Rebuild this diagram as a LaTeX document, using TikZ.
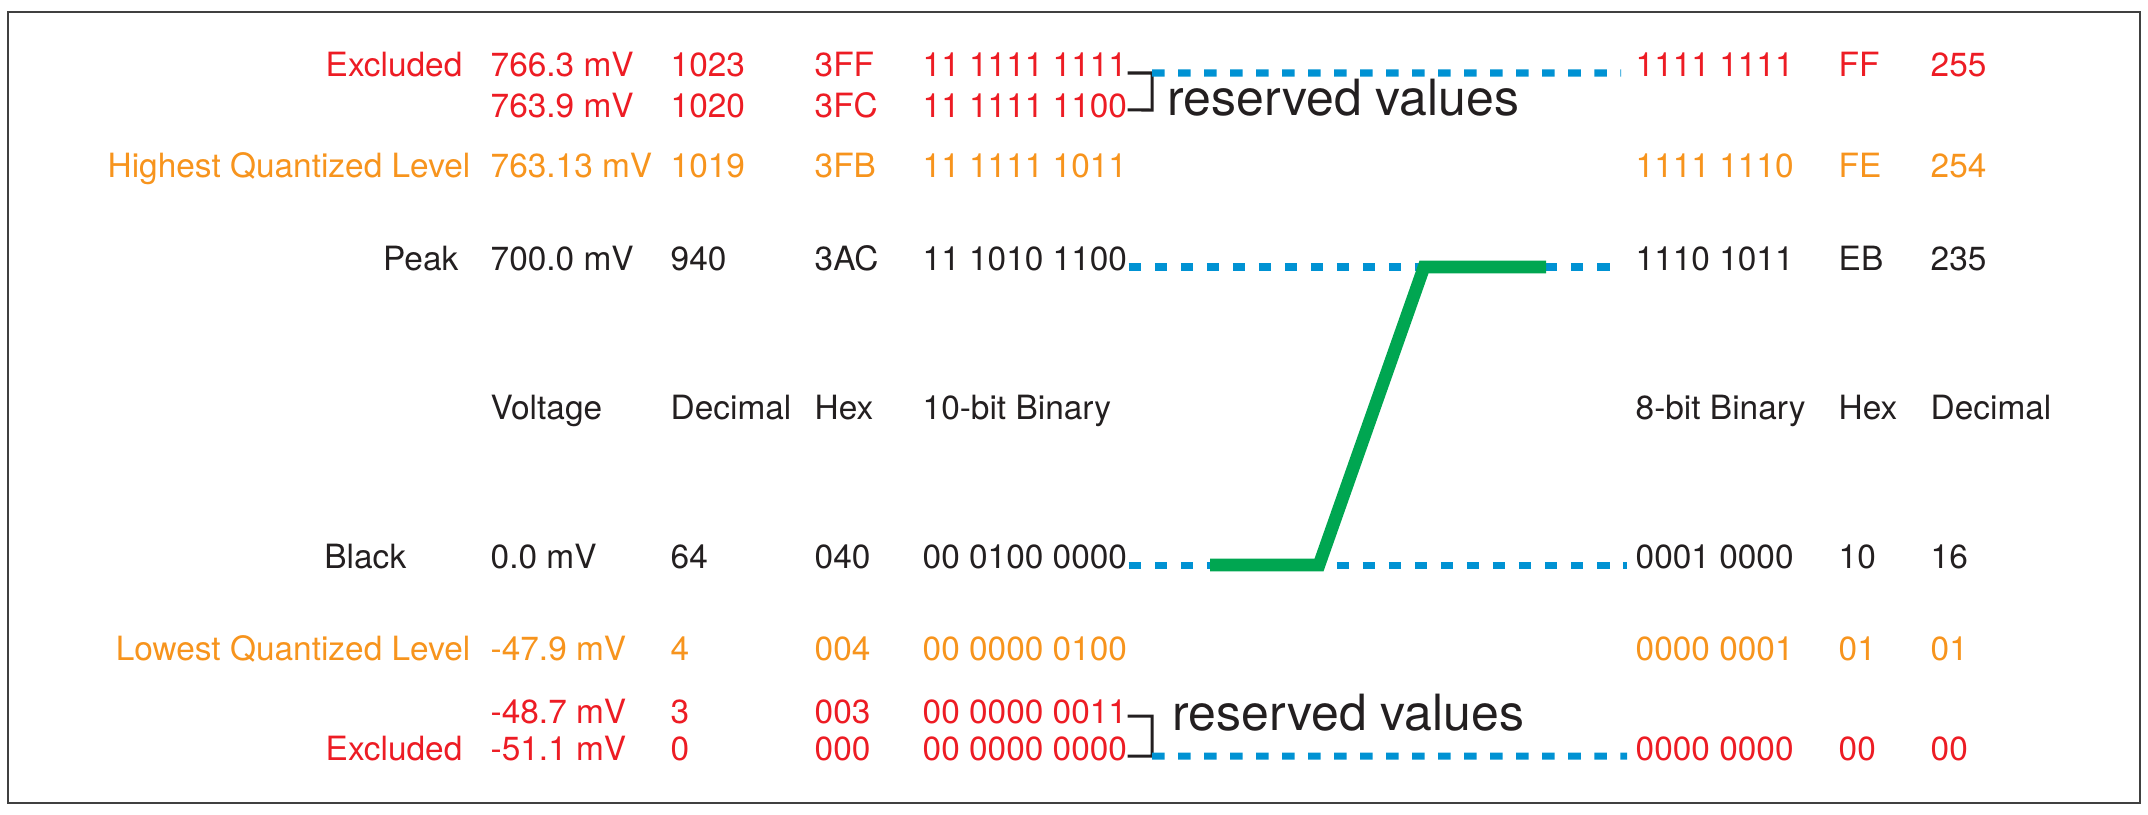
\documentclass[tikz,border=0pt]{standalone}
\usepackage{fontspec}
\setmainfont{TeX Gyre Heros}
\usepackage{xcolor}

\definecolor{exred}{RGB}{237,28,36}
\definecolor{qorange}{RGB}{247,148,29}
\definecolor{inkblack}{RGB}{35,31,32}
\definecolor{dashblue}{RGB}{0,146,211}
\definecolor{rampgreen}{RGB}{0,166,81}

\begin{document}
\begin{tikzpicture}[x=0.01cm,y=-0.01cm,
  cell/.style={anchor=base west,inner sep=0pt,font=\fontsize{9.5}{11}\selectfont},
  tag/.style={anchor=base east,inner sep=0pt,font=\fontsize{9.5}{11}\selectfont},
  note/.style={anchor=base west,inner sep=0pt,text=inkblack,font=\fontsize{14.2}{17}\selectfont},
  excl/.style={text=exred},
  quant/.style={text=qorange},
  plain/.style={text=inkblack},
  levelline/.style={draw=dashblue,line width=0.07cm,dash pattern=on 0.125cm off 0.135cm},
  bracket/.style={draw=inkblack,line width=0.03cm},
  ramp/.style={draw=rampgreen,line width=0.127cm},
  frame/.style={draw=black!75,line width=0.025cm}]

\useasboundingbox (0,0) rectangle (2148,815);
\draw[frame] (8,12) rectangle (2140,803);

\coordinate (V) at (490,0);
\coordinate (D) at (670,0);
\coordinate (H) at (814,0);
\coordinate (B) at (922,0);
\coordinate (E) at (1635,0);
\coordinate (X) at (1838,0);
\coordinate (C) at (1930,0);

\coordinate (r1) at (0,77);
\coordinate (r2) at (0,117);
\coordinate (r3) at (0,177);
\coordinate (r4) at (0,270);
\coordinate (r5) at (0,419);
\coordinate (r6) at (0,568);
\coordinate (r7) at (0,660);
\coordinate (r8) at (0,723);
\coordinate (r9) at (0,760);

\coordinate (k1) at (1152,73);
\coordinate (k2) at (1152,110);
\coordinate (k3) at (1152,716);
\coordinate (k4) at (1152,756);

\coordinate (G1) at (1210,565);
\coordinate (G2) at (1319,565);
\coordinate (G3) at (1424,267);
\coordinate (G4) at (1546,267);

\node[tag,excl] (lab1) at (463,77) {Excluded};
\node[cell,excl] (volt1) at (V |- r1) {766.3 mV};
\node[cell,excl] (dec1) at (D |- r1) {1023};
\node[cell,excl] (hex1) at (H |- r1) {3FF};
\node[cell,excl] (bin1) at (B |- r1) {11 1111 1111};
\node[cell,excl] (ebin1) at (E |- r1) {1111 1111};
\node[cell,excl] (ehex1) at (X |- r1) {FF};
\node[cell,excl] (edec1) at (C |- r1) {255};

\node[cell,excl] (volt2) at (V |- r2) {763.9 mV};
\node[cell,excl] (dec2) at (D |- r2) {1020};
\node[cell,excl] (hex2) at (H |- r2) {3FC};
\node[cell,excl] (bin2) at (B |- r2) {11 1111 1100};

\node[tag,quant] (lab3) at (471,177) {Highest Quantized Level};
\node[cell,quant] (volt3) at (V |- r3) {763.13 mV};
\node[cell,quant] (dec3) at (D |- r3) {1019};
\node[cell,quant] (hex3) at (H |- r3) {3FB};
\node[cell,quant] (bin3) at (B |- r3) {11 1111 1011};
\node[cell,quant] (ebin3) at (E |- r3) {1111 1110};
\node[cell,quant] (ehex3) at (X |- r3) {FE};
\node[cell,quant] (edec3) at (C |- r3) {254};

\node[tag,plain] (lab4) at (459,270) {Peak};
\node[cell,plain] (volt4) at (V |- r4) {700.0 mV};
\node[cell,plain] (dec4) at (D |- r4) {940};
\node[cell,plain] (hex4) at (H |- r4) {3AC};
\node[cell,plain] (bin4) at (B |- r4) {11 1010 1100};
\node[cell,plain] (ebin4) at (E |- r4) {1110 1011};
\node[cell,plain] (ehex4) at (X |- r4) {EB};
\node[cell,plain] (edec4) at (C |- r4) {235};

\node[cell,plain] (volt5) at (V |- r5) {Voltage};
\node[cell,plain] (dec5) at (D |- r5) {Decimal};
\node[cell,plain] (hex5) at (H |- r5) {Hex};
\node[cell,plain] (bin5) at (B |- r5) {10-bit Binary};
\node[cell,plain] (ebin5) at (E |- r5) {8-bit Binary};
\node[cell,plain] (ehex5) at (X |- r5) {Hex};
\node[cell,plain] (edec5) at (C |- r5) {Decimal};

\node[tag,plain] (lab6) at (407,568) {Black};
\node[cell,plain] (volt6) at (V |- r6) {0.0 mV};
\node[cell,plain] (dec6) at (D |- r6) {64};
\node[cell,plain] (hex6) at (H |- r6) {040};
\node[cell,plain] (bin6) at (B |- r6) {00 0100 0000};
\node[cell,plain] (ebin6) at (E |- r6) {0001 0000};
\node[cell,plain] (ehex6) at (X |- r6) {10};
\node[cell,plain] (edec6) at (C |- r6) {16};

\node[tag,quant] (lab7) at (471,660) {Lowest Quantized Level};
\node[cell,quant] (volt7) at (V |- r7) {-47.9 mV};
\node[cell,quant] (dec7) at (D |- r7) {4};
\node[cell,quant] (hex7) at (H |- r7) {004};
\node[cell,quant] (bin7) at (B |- r7) {00 0000 0100};
\node[cell,quant] (ebin7) at (E |- r7) {0000 0001};
\node[cell,quant] (ehex7) at (X |- r7) {01};
\node[cell,quant] (edec7) at (C |- r7) {01};

\node[cell,excl] (volt8) at (V |- r8) {-48.7 mV};
\node[cell,excl] (dec8) at (D |- r8) {3};
\node[cell,excl] (hex8) at (H |- r8) {003};
\node[cell,excl] (bin8) at (B |- r8) {00 0000 0011};

\node[tag,excl] (lab9) at (463,760) {Excluded};
\node[cell,excl] (volt9) at (V |- r9) {-51.1 mV};
\node[cell,excl] (dec9) at (D |- r9) {0};
\node[cell,excl] (hex9) at (H |- r9) {000};
\node[cell,excl] (bin9) at (B |- r9) {00 0000 0000};
\node[cell,excl] (ebin9) at (E |- r9) {0000 0000};
\node[cell,excl] (ehex9) at (X |- r9) {00};
\node[cell,excl] (edec9) at (C |- r9) {00};

\draw[bracket] ([yshift=0.04cm]bin1.base east) -- (k1) -- (k2) -- ([yshift=0.07cm]bin2.base east);
\draw[bracket] ([yshift=0.07cm]bin8.base east) -- (k3) -- (k4) -- ([yshift=0.04cm]bin9.base east);
\node[note] (res1) at (1167,115) {reserved values};
\node[note] (res2) at (1172,730) {reserved values};

\draw[levelline] (k1) -- ([xshift=-0.14cm,yshift=0.04cm]ebin1.base west);
\draw[levelline] ([xshift=0.01cm,yshift=0.03cm]bin4.base east) -- ([xshift=-0.14cm,yshift=0.03cm]ebin4.base west);
\draw[levelline] ([xshift=0.01cm,yshift=0.03cm]bin6.base east) -- ([xshift=-0.08cm,yshift=0.03cm]ebin6.base west);
\draw[levelline] (k4) -- ([xshift=-0.08cm,yshift=0.04cm]ebin9.base west);

\draw[ramp] (G1) -- (G2) -- (G3) -- (G4);

\end{tikzpicture}
\end{document}
